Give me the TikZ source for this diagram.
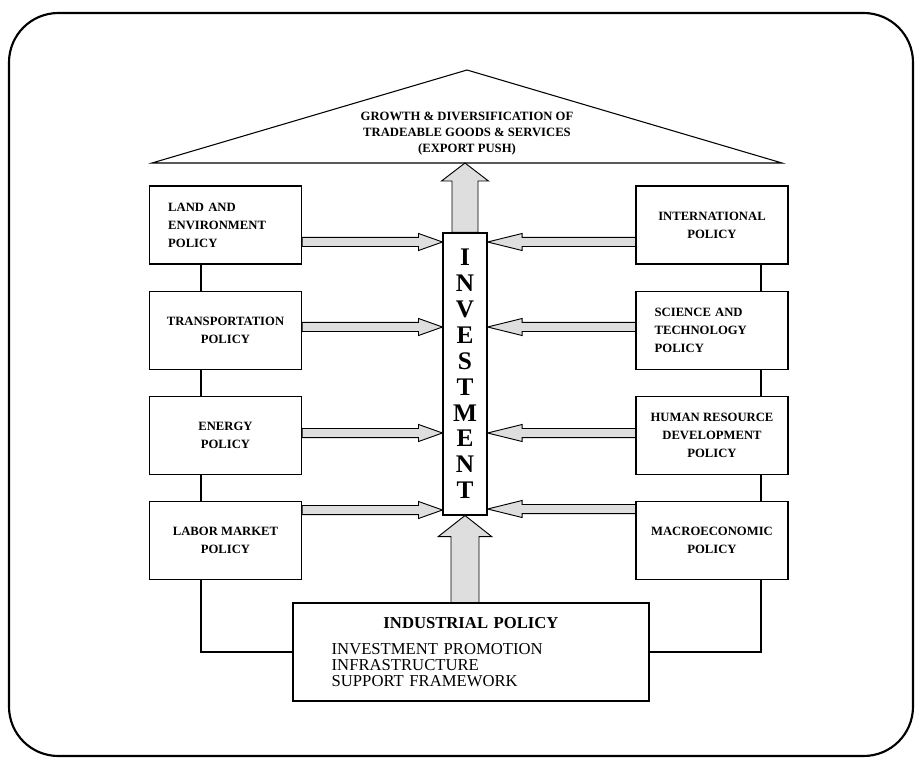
\documentclass[tikz,border=0pt]{standalone}
\usepackage{fontspec}
\setmainfont{Liberation Serif}
\usetikzlibrary{positioning, calc}
\definecolor{stipple}{gray}{0.87}
% hollow block arrow from #1 to the tip #2: shaft half-width, head half-width, head length
\newcommand{\fatarrow}[5]{%
  \draw[fatarr] let \p1=(#1), \p2=(#2),
    \n1={atan2(\y2-\y1,\x2-\x1)}, \n2={veclen(\x2-\x1,\y2-\y1)} in
    [shift={(\p1)}, rotate=\n1]
    (0pt,-#3) -- ({\n2-#5},-#3) -- ({\n2-#5},-#4) -- ({\n2+0pt},0pt)
    -- ({\n2-#5},#4) -- ({\n2-#5},#3) -- (0pt,#3) -- cycle;}

\begin{document}
\begin{tikzpicture}[x=0.75pt, y=-0.75pt,
  box/.style={draw, line width=0.8pt, minimum width=114pt, minimum height=58.5pt,
              align=center, font=\fontsize{9.5}{13.5}\selectfont\bfseries},
  lbox/.style={box, align=left, text width=86pt, inner xsep=14pt},
  letters/.style={draw, line width=0.8pt, minimum width=33pt, minimum height=211.5pt,
                  inner sep=0pt, align=center, font=\fontsize{19}{19.4}\selectfont\bfseries},
  indusbox/.style={draw, line width=0.8pt, minimum width=267pt, minimum height=73.5pt,
                   inner xsep=29pt, text width=209pt, align=left,
                   font=\fontsize{12.5}{12}\selectfont},
  fatarr/.style={draw, line width=0.7pt, fill=stipple, line join=miter},
  link/.style={line width=0.8pt},
  frame/.style={line width=1.6pt, rounded corners=37pt}]
\useasboundingbox (0,0) rectangle (922,763);
\draw[frame] (9,13) rectangle (913,756);

% roof
\coordinate (roofL) at (152,163);
\coordinate (roofR) at (782,163);
\coordinate (roofT) at (467,70);
\draw[link] (roofL) -- (roofT) -- (roofR) -- cycle;
\node[align=center, font=\fontsize{9.5}{12}\selectfont\bfseries] (goal) at (467,134)
  {GROWTH \& DIVERSIFICATION OF\\ TRADEABLE GOODS \& SERVICES\\ (EXPORT PUSH)};

% left column
\node[lbox] (land) at (225.5,225) {LAND AND\\ ENVIRONMENT\\ POLICY};
\node[box, below=19.5pt of land] (trans) {TRANSPORTATION\\ POLICY};
\node[box, below=19.5pt of trans] (energy) {ENERGY\\ POLICY};
\node[box, below=19.5pt of energy] (labor) {LABOR MARKET\\ POLICY};

% right column
\node[box] (intl) at (712,225) {INTERNATIONAL\\ POLICY};
\node[lbox, below=19.5pt of intl] (sci) {SCIENCE AND\\ TECHNOLOGY\\ POLICY};
\node[box, below=19.5pt of sci] (hrd) {HUMAN RESOURCE\\ DEVELOPMENT\\ POLICY};
\node[box, below=19.5pt of hrd] (macro) {MACROECONOMIC\\ POLICY};

\node[letters] (inv) at (465,374) {I\\N\\V\\E\\S\\T\\M\\E\\N\\T};

\node[indusbox] (indus) at (471,652)
  {\centerline{\bfseries INDUSTRIAL POLICY}\par\vspace{8pt}
   INVESTMENT PROMOTION\\ INFRASTRUCTURE\\ SUPPORT FRAMEWORK};

% links between policy boxes
\coordinate (lline) at (201,0);
\coordinate (rline) at (761,0);
\foreach \a/\b in {land/trans, trans/energy, energy/labor}
  \draw[link] (\a.south -| lline) -- (\b.north -| lline);
\foreach \a/\b in {intl/sci, sci/hrd, hrd/macro}
  \draw[link] (\a.south -| rline) -- (\b.north -| rline);
\draw[link] (labor.south -| lline) |- (indus.west);
\draw[link] (macro.south -| rline) |- (indus.east);

% block arrows into investment
\foreach \src/\yy in {land/242, trans/327, energy/433, labor/510}
  \fatarrow{\src.east |- 0,\yy}{inv.west |- 0,\yy}{3.4pt}{6.4pt}{18pt};
\foreach \src/\yy in {intl/242, sci/327, hrd/433, macro/509}
  \fatarrow{\src.west |- 0,\yy}{inv.east |- 0,\yy}{3.4pt}{6.4pt}{26pt};
\fatarrow{inv.north}{inv.north |- roofL}{9.75pt}{17.6pt}{13.5pt};
\fatarrow{inv.south |- indus.north}{inv.south}{10.5pt}{20pt}{15.75pt};
\end{tikzpicture}
\end{document}
